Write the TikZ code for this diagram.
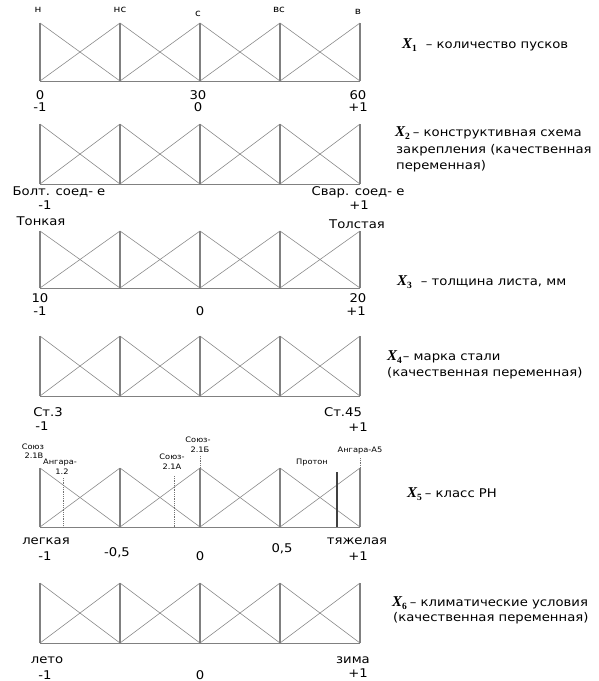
\documentclass[tikz,border=0pt]{standalone}
\usepackage{fontspec}
\setmainfont{DejaVu Sans}[FakeStretch=1.1]
\newfontfamily\xfont{Liberation Serif}
\newcommand\xvar[1]{{\xfont\bfseries\itshape\fontsize{15}{15}\selectfont X}\raisebox{-0.45ex}{\xfont\bfseries\fontsize{9.5}{9.5}\selectfont #1}}
\newcommand\mfpanel[3]{% name, top y, bottom y
  \foreach \i/\xa in {0/40,1/120,2/200,3/280,4/360}{
    \coordinate (#1t\i) at (\xa,#2);
    \coordinate (#1b\i) at (\xa,#3);
  }
  \foreach \i/\j in {0/1,1/2,2/3,3/4}{
    \draw[diag] (#1t\i) -- (#1b\j);
    \draw[diag] (#1b\i) -- (#1t\j);
  }
  \foreach \i in {0,...,4}{\draw[vline] (#1b\i) -- (#1t\i);}
  \draw[base] (#1b0) -- (#1b4);
}
\begin{document}
\begin{tikzpicture}[x=1pt,y=-1pt,
  lab/.style={inner sep=0pt, font=\fontsize{12}{14}\selectfont},
  toplab/.style={inner sep=0pt, font=\fontsize{9.5}{10}\selectfont},
  tiny/.style={inner sep=0pt, font=\fontsize{7.5}{8}\selectfont},
  side/.style={inner sep=0pt, anchor=west, font=\fontsize{12}{14}\selectfont},
  vline/.style={draw=black!50, line width=1.1pt},
  diag/.style={draw=black!45, line width=0.6pt},
  base/.style={draw=black!50, line width=1pt},
  dotline/.style={draw=black!55, line width=0.8pt, densely dotted},
  markline/.style={draw=black!75, line width=1.2pt},
  ]
\useasboundingbox[fill=white] (0,0) rectangle (598,681);

% ---------- panels ----------
\mfpanel{p1}{23}{81}
\mfpanel{p2}{124}{184}
\mfpanel{p3}{231}{288}
\mfpanel{p4}{336}{396}
\mfpanel{p5}{468}{527}
\mfpanel{p6}{583}{643}

% ---------- panel 1 ----------
\node[toplab] (t1) at (38,10) {н};
\node[toplab] (t2) at (120,10) {нс};
\node[toplab] (t3) at (198,14) {с};
\node[toplab] (t4) at (279,10) {вс};
\node[toplab] (t5) at (358,12) {в};
\node[lab] (a1) at (40,95) {0};
\node[lab] (a2) at (40,107) {-1};
\node[lab] (a3) at (198,95) {30};
\node[lab] (a4) at (198,107) {0};
\node[lab] (a5) at (358,95) {60};
\node[lab] (a6) at (358,107) {+1};
\node[side] (s1) at (402,45) {\xvar{1}\hspace{9pt}– количество пусков};

% ---------- panel 2 ----------
\node[lab] (b1) at (59,192) {Болт. соед- е};
\node[lab] (b2) at (45,205) {-1};
\node[lab] (b3) at (358,192) {Свар. соед- е};
\node[lab] (b4) at (359,205) {+1};
\node[side] (s2a) at (395,133) {\xvar{2}\hspace{3pt}– конструктивная схема};
\node[side] (s2b) at (396,150) {закрепления (качественная};
\node[side] (s2c) at (396,166) {переменная)};

% ---------- panel 3 ----------
\node[lab] (c1) at (41,221) {Тонкая};
\node[lab] (c2) at (357,224) {Толстая};
\node[lab] (c3) at (40,298) {10};
\node[lab] (c4) at (40,311) {-1};
\node[lab] (c5) at (200,311) {0};
\node[lab] (c6) at (358,298) {20};
\node[lab] (c7) at (356,311) {+1};
\node[side] (s3) at (397,282) {\xvar{3}\hspace{9pt}– толщина листа, мм};

% ---------- panel 4 ----------
\node[lab] (d1) at (48,412) {Ст.3};
\node[lab] (d2) at (42,426) {-1};
\node[lab] (d3) at (343,412) {Ст.45};
\node[lab] (d4) at (358,427) {+1};
\node[side] (s4a) at (387,357) {\xvar{4}\hspace{1pt}– марка стали};
\node[side] (s4b) at (387,373) {(качественная переменная)};

% ---------- panel 5 ----------
\node[tiny] (e1) at (33,447) {Союз};
\node[tiny] (e2) at (34,456) {2.1В};
\node[tiny] (e3) at (60,463) {Ангара-};
\node[tiny] (e4) at (62,472) {1.2};
\node[tiny] (e5) at (172,457) {Союз-};
\node[tiny] (e6) at (172,467) {2.1А};
\node[tiny] (e7) at (198,440) {Союз-};
\node[tiny] (e8) at (200,450) {2.1Б};
\node[tiny] (e9) at (312,463) {Протон};
\node[tiny] (e10) at (360,451) {Ангара-А5};

\coordinate (m1t) at (63,478);  \coordinate (m1b) at (63,527);
\coordinate (m2t) at (174,476); \coordinate (m2b) at (174,527);
\coordinate (m3t) at (200,456); \coordinate (m3b) at (200,468);
\coordinate (m4t) at (360,458); \coordinate (m4b) at (360,468);
\coordinate (m5t) at (337,472); \coordinate (m5b) at (337,527);
\draw[dotline] (m1t) -- (m1b);
\draw[dotline] (m2t) -- (m2b);
\draw[dotline] (m3t) -- (m3b);
\draw[dotline] (m4t) -- (m4b);
\draw[markline] (m5t) -- (m5b);

\node[lab] (f1) at (46,541) {легкая};
\node[lab] (f2) at (357,541) {тяжелая};
\node[lab] (f3) at (45,556) {-1};
\node[lab] (f4) at (117,553) {-0,5};
\node[lab] (f5) at (200,556) {0};
\node[lab] (f6) at (282,549) {0,5};
\node[lab] (f7) at (358,556) {+1};
\node[side] (s5) at (407,494) {\xvar{5}\hspace{3pt}– класс РН};

% ---------- panel 6 ----------
\node[lab] (g1) at (47,660) {лето};
\node[lab] (g2) at (45,675) {-1};
\node[lab] (g3) at (200,675) {0};
\node[lab] (g4) at (353,660) {зима};
\node[lab] (g5) at (358,673) {+1};
\node[side] (s6a) at (392,603) {\xvar{6}\hspace{3pt}– климатические условия};
\node[side] (s6b) at (393,618) {(качественная переменная)};
\end{tikzpicture}
\end{document}
